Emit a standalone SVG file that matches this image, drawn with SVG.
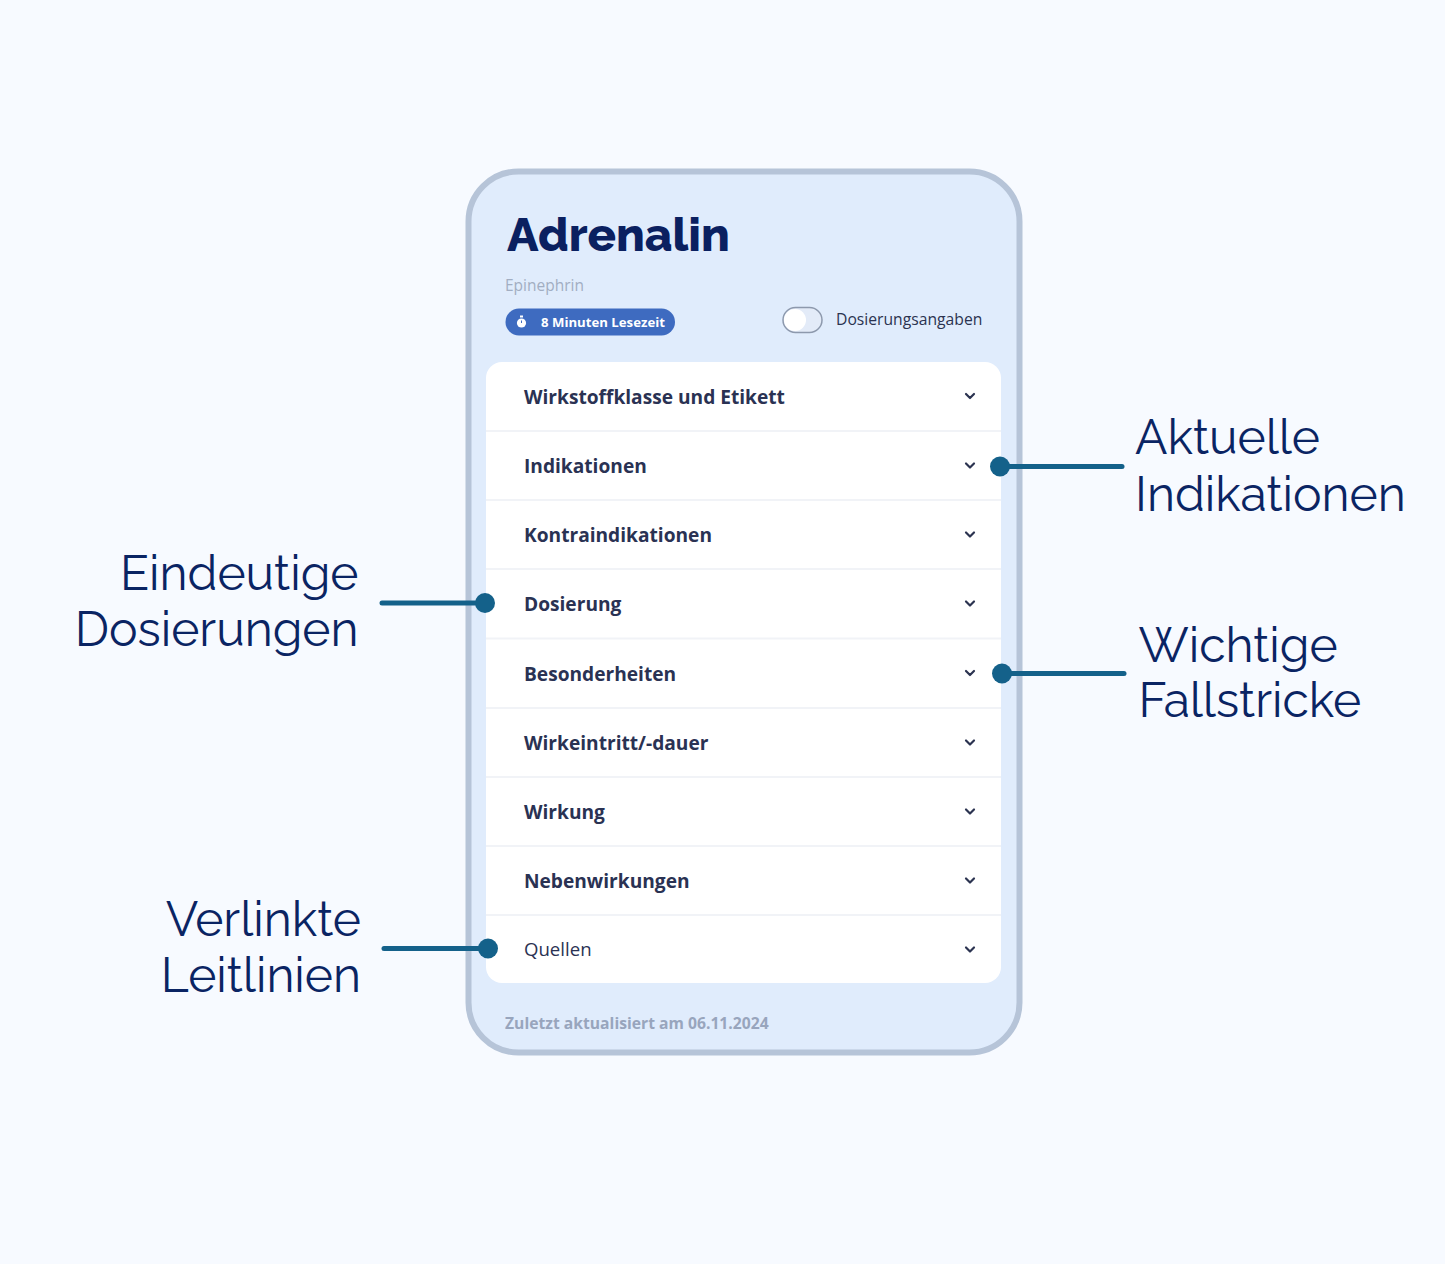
<svg xmlns="http://www.w3.org/2000/svg" width="1445" height="1264" viewBox="0 0 1445 1264">
<defs><style>
.row{font-family:"Open Sans","Noto Sans",sans-serif;font-size:19.15px;font-weight:700;fill:#2a3253}
.lab{font-family:"Raleway","Lato","Open Sans",sans-serif;font-size:48px;fill:#0a2463}
.chev{fill:none;stroke:#2b3350;stroke-width:2.2;stroke-linecap:round;stroke-linejoin:round}
.sep{stroke:#f1f3f7;stroke-width:2}
.conn{stroke:#14618a;stroke-width:5;stroke-linecap:round}
.dot{fill:#14618a}
</style></defs>
<rect width="1445" height="1264" fill="#f7faff"/>
<g id="phone">
<rect x="468.500" y="171.500" width="551" height="881" rx="50" fill="#e0ecfc" stroke="#b6c4d8" stroke-width="6"/>
<text x="507" y="251" font-family="Raleway,Lato,'Open Sans',sans-serif" font-size="47.200" font-weight="800" fill="#0a2060">Adrenalin</text>
<text x="505" y="291" font-family="'Open Sans',sans-serif" font-size="15.500" fill="#a2aec2">Epinephrin</text>
</g>
<g id="badge">
<rect x="505.500" y="308.500" width="169.500" height="27" rx="13.500" fill="#3e6bc0"/>
<circle cx="521.500" cy="323" r="4.600" fill="#fff"/>
<rect x="520" y="315.500" width="3" height="2" fill="#fff"/>
<path d="M521.500 320.500v2.500" stroke="#3e6bc0" stroke-width="1" fill="none"/>
<text x="541" y="326.500" font-family="'Open Sans',sans-serif" font-size="13.200" font-weight="700" fill="#fff">8 Minuten Lesezeit</text>
</g>
<g id="toggle">
<rect x="783" y="307.500" width="39" height="25" rx="12.500" fill="#e3ebf8" stroke="#8d99ad" stroke-width="1.500"/>
<circle cx="795" cy="320" r="11" fill="#fff"/>
<text x="836" y="325" font-family="'Open Sans',sans-serif" font-size="15.700" font-weight="500" fill="#2b3350">Dosierungsangaben</text>
</g>
<g id="list">
<rect x="486" y="362" width="515" height="621" rx="16" fill="#fff"/>
<line class="sep" x1="486" x2="1001" y1="431" y2="431"/>
<line class="sep" x1="486" x2="1001" y1="500" y2="500"/>
<line class="sep" x1="486" x2="1001" y1="569" y2="569"/>
<line class="sep" x1="486" x2="1001" y1="638.500" y2="638.500"/>
<line class="sep" x1="486" x2="1001" y1="708" y2="708"/>
<line class="sep" x1="486" x2="1001" y1="777" y2="777"/>
<line class="sep" x1="486" x2="1001" y1="846" y2="846"/>
<line class="sep" x1="486" x2="1001" y1="915" y2="915"/>
</g>
<g id="row1"><text class="row" x="524" y="403.500">Wirkstoffklasse und Etikett</text><path class="chev" d="M966 394l4 4 4-4"/></g>
<g id="row2"><text class="row" x="524" y="472.500">Indikationen</text><path class="chev" d="M966 463.500l4 4 4-4"/></g>
<g id="row3"><text class="row" x="524" y="541.500">Kontraindikationen</text><path class="chev" d="M966 532.500l4 4 4-4"/></g>
<g id="row4"><text class="row" x="524" y="611">Dosierung</text><path class="chev" d="M966 601.500l4 4 4-4"/></g>
<g id="row5"><text class="row" x="524" y="680.500">Besonderheiten</text><path class="chev" d="M966 671l4 4 4-4"/></g>
<g id="row6"><text class="row" x="524" y="749.500">Wirkeintritt/-dauer</text><path class="chev" d="M966 740.500l4 4 4-4"/></g>
<g id="row7"><text class="row" x="524" y="819">Wirkung</text><path class="chev" d="M966 809.500l4 4 4-4"/></g>
<g id="row8"><text class="row" x="524" y="888">Nebenwirkungen</text><path class="chev" d="M966 878.500l4 4 4-4"/></g>
<g id="row9"><text class="row" x="524" y="956" style="font-weight:500;font-size:18.600px">Quellen</text><path class="chev" d="M966 947.500l4 4 4-4"/></g>
<g id="footer"><text x="505" y="1029" font-family="'Open Sans',sans-serif" font-size="15.700" font-weight="700" fill="#98a5bd">Zuletzt aktualisiert am 06.11.2024</text></g>
<g id="connectors">
<line class="conn" x1="1000" y1="466.500" x2="1122" y2="466.500"/><circle class="dot" cx="1000" cy="466.500" r="10"/>
<line class="conn" x1="1002" y1="673.500" x2="1124" y2="673.500"/><circle class="dot" cx="1002" cy="673.500" r="10"/>
<line class="conn" x1="382" y1="603" x2="485" y2="603"/><circle class="dot" cx="485" cy="603" r="10"/>
<line class="conn" x1="384" y1="948.500" x2="488" y2="948.500"/><circle class="dot" cx="488" cy="948.500" r="10"/>
</g>
<g id="label-indikationen"><text class="lab" x="1135" y="454">Aktuelle</text><text class="lab" x="1135" y="510.500">Indikationen</text></g>
<g id="label-fallstricke"><text class="lab" x="1138.500" y="661.500">Wichtige</text><text class="lab" x="1138.500" y="717">Fallstricke</text></g>
<g id="label-dosierungen"><text class="lab" x="358.500" y="589.500" text-anchor="end">Eindeutige</text><text class="lab" x="358.500" y="645.500" text-anchor="end">Dosierungen</text></g>
<g id="label-leitlinien"><text class="lab" x="361" y="935.500" text-anchor="end">Verlinkte</text><text class="lab" x="361" y="991.500" text-anchor="end">Leitlinien</text></g>
</svg>
